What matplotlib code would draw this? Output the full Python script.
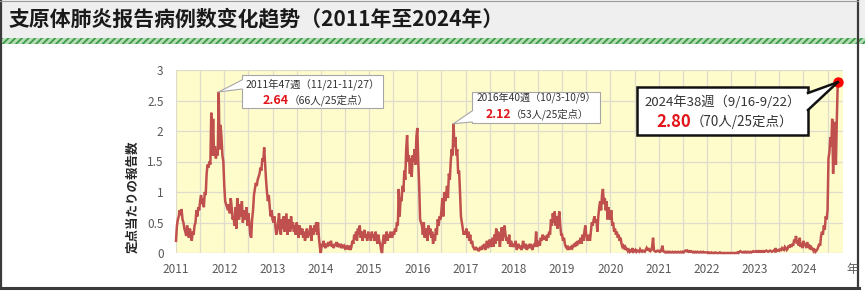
import matplotlib
matplotlib.use("Agg")
import matplotlib.pyplot as plt
from matplotlib.patches import Rectangle, Polygon
from matplotlib.lines import Line2D
import numpy as np

# ---------------- data (weekly reports per sentinel site) ----------------
title = "支原体肺炎报告病例数变化趋势（2011年至2024年）"
ylabel = "定点当たりの報告数"
year_ticks = list(range(2011, 2025))
y_ticks = [0, 0.5, 1, 1.5, 2, 2.5, 3]
y_tick_labels = ["0", "0.5", "1", "1.5", "2", "2.5", "3"]

v2011 = [0.2, 0.45, 0.55, 0.6, 0.7, 0.62, 0.72, 0.55, 0.5, 0.4,
         0.35, 0.28, 0.45, 0.3, 0.25, 0.4, 0.3, 0.2, 0.35, 0.3,
         0.45, 0.5, 0.7, 0.6, 0.75, 0.7, 0.85, 0.95, 0.8, 0.9,
         0.75, 1.0, 0.95, 1.3, 1.45, 1.4, 1.5, 1.45, 2.3, 1.6,
         2.2, 1.6, 1.75, 1.55, 1.7, 1.6, 2.64, 1.7, 2.1, 1.9,
         1.6, 1.5]
v2012 = [1.1, 0.85, 0.8, 0.75, 0.7, 0.8, 0.65, 0.9, 0.75, 0.55,
         0.6, 0.45, 0.75, 0.4, 0.9, 0.6, 0.55, 0.8, 0.6, 0.85,
         0.5, 0.65, 0.7, 0.55, 0.75, 0.45, 0.65, 0.5, 0.3, 0.25,
         0.55, 0.7, 0.95, 1.05, 1.15, 1.1, 1.2, 1.25, 1.3, 1.4,
         1.35, 1.55, 1.5, 1.73, 1.45, 1.2, 1.0, 0.85, 0.95, 0.75,
         0.6, 0.7]
v2013 = [0.55, 0.5, 0.6, 0.45, 0.3, 0.35, 0.5, 0.65, 0.4, 0.3,
         0.55, 0.4, 0.6, 0.35, 0.5, 0.65, 0.3, 0.45, 0.55, 0.35,
         0.6, 0.4, 0.5, 0.35, 0.45, 0.3, 0.5, 0.4, 0.25, 0.45,
         0.35, 0.3, 0.4, 0.25, 0.35, 0.2, 0.3, 0.4, 0.25, 0.3,
         0.35, 0.45, 0.2, 0.4, 0.3, 0.45, 0.35, 0.5, 0.3, 0.5,
         0.25, 0.1]
v2014 = [0.0, 0.15, 0.1, 0.2, 0.12, 0.08, 0.15, 0.1, 0.18, 0.12,
         0.15, 0.2, 0.1, 0.14, 0.08, 0.15, 0.12, 0.18, 0.1, 0.13,
         0.1, 0.15, 0.08, 0.12, 0.1, 0.12, 0.08, 0.1, 0.06, 0.1,
         0.08, 0.12, 0.05, 0.1, 0.2, 0.15, 0.3, 0.22, 0.35, 0.2,
         0.4, 0.3, 0.45, 0.25, 0.35, 0.2, 0.3, 0.38, 0.25, 0.3,
         0.2, 0.35]
v2015 = [0.25, 0.3, 0.2, 0.35, 0.25, 0.3, 0.2, 0.35, 0.25, 0.15,
         0.3, 0.2, 0.15, 0.05, 0.0, 0.2, 0.3, 0.15, 0.25, 0.35,
         0.2, 0.3, 0.25, 0.35, 0.3, 0.25, 0.35, 0.3, 0.4, 0.35,
         0.5, 0.45, 1.05, 0.6, 0.9, 0.85, 1.1, 1.0, 1.35, 1.2,
         1.7, 1.93, 1.5, 1.6, 1.3, 1.55, 1.25, 1.6, 1.5, 1.7,
         1.45, 1.9]
v2016 = [2.05, 1.5, 1.1, 0.55, 0.5, 0.45, 0.3, 0.5, 0.25, 0.4,
         0.35, 0.2, 0.45, 0.3, 0.4, 0.25, 0.35, 0.15, 0.3, 0.2,
         0.4, 0.3, 0.55, 0.45, 0.6, 0.55, 0.7, 0.9, 0.6, 1.0,
         0.85, 0.95, 1.1, 0.9, 1.3, 1.2, 1.5, 1.7, 1.6, 2.12,
         1.75, 1.9, 1.6, 1.7, 1.3, 1.35, 1.0, 0.6, 0.5, 0.4,
         0.3, 0.35]
v2017 = [0.3, 0.4, 0.25, 0.35, 0.2, 0.3, 0.15, 0.2, 0.1, 0.08,
         0.05, 0.1, 0.05, 0.08, 0.03, 0.06, 0.1, 0.05, 0.12, 0.08,
         0.15, 0.05, 0.1, 0.2, 0.08, 0.12, 0.22, 0.1, 0.15, 0.25,
         0.1, 0.3, 0.15, 0.4, 0.2, 0.35, 0.25, 0.1, 0.3, 0.42,
         0.2, 0.35, 0.45, 0.3, 0.2, 0.25, 0.15, 0.3, 0.1, 0.2,
         0.15, 0.1]
v2018 = [0.15, 0.1, 0.2, 0.05, 0.1, 0.15, 0.08, 0.12, 0.05, 0.1,
         0.2, 0.08, 0.1, 0.15, 0.05, 0.1, 0.12, 0.08, 0.15, 0.1,
         0.05, 0.12, 0.15, 0.1, 0.35, 0.1, 0.15, 0.2, 0.12, 0.25,
         0.2, 0.3, 0.25, 0.22, 0.28, 0.2, 0.3, 0.25, 0.35, 0.3,
         0.55, 0.45, 0.65, 0.5, 0.68, 0.45, 0.6, 0.4, 0.55, 0.68,
         0.45, 0.3]
v2019 = [0.3, 0.2, 0.25, 0.15, 0.1, 0.08, 0.12, 0.05, 0.1, 0.06,
         0.1, 0.08, 0.12, 0.15, 0.1, 0.18, 0.12, 0.2, 0.15, 0.2,
         0.25, 0.15, 0.3, 0.2, 0.35, 0.45, 0.3, 0.2, 0.25, 0.3,
         0.2, 0.35, 0.5, 0.45, 0.55, 0.6, 0.5, 0.55, 0.35, 0.6,
         0.75, 0.85, 0.7, 0.95, 1.05, 0.8, 0.9, 0.7, 0.85, 0.55,
         0.75, 0.6]
v2020 = [0.55, 0.7, 0.45, 0.5, 0.35, 0.4, 0.3, 0.35, 0.25, 0.3,
         0.2, 0.25, 0.15, 0.1, 0.12, 0.08, 0.1, 0.05, 0.08, 0.03,
         0.05, 0.02, 0.04, 0.03, 0.08, 0.02, 0.03, 0.05, 0.02, 0.04,
         0.03, 0.02, 0.06, 0.03, 0.02, 0.04, 0.03, 0.02, 0.05, 0.08,
         0.04, 0.08, 0.04, 0.03, 0.05, 0.1, 0.25, 0.04, 0.03, 0.02,
         0.03, 0.04]
v2021 = [0.03, 0.02, 0.04, 0.02, 0.12, 0.03, 0.02, 0.01, 0.02, 0.01,
         0.02, 0.01, 0.02, 0.01, 0.01, 0.02, 0.01, 0.01, 0.02, 0.01,
         0.01, 0.02, 0.01, 0.01, 0.02, 0.01, 0.02, 0.01, 0.03, 0.04,
         0.03, 0.04, 0.02, 0.03, 0.02, 0.03, 0.02, 0.01, 0.02, 0.01,
         0.02, 0.01, 0.02, 0.01, 0.01, 0.02, 0.01, 0.01, 0.02, 0.01,
         0.01, 0.01]
v2022 = [0.01, 0.0, 0.01, 0.0, 0.0, 0.01, 0.0, 0.0, 0.0, 0.01,
         0.0, 0.0, 0.0, 0.0, 0.01, 0.0, 0.0, 0.0, 0.0, 0.0,
         0.0, 0.0, 0.0, 0.0, 0.0, 0.0, 0.0, 0.0, 0.0, 0.0,
         0.0, 0.0, 0.0, 0.01, 0.0, 0.02, 0.03, 0.02, 0.01, 0.01,
         0.02, 0.01, 0.02, 0.01, 0.02, 0.01, 0.01, 0.02, 0.01, 0.02,
         0.03, 0.02]
v2023 = [0.02, 0.03, 0.02, 0.03, 0.02, 0.03, 0.02, 0.03, 0.02, 0.03,
         0.02, 0.03, 0.04, 0.03, 0.02, 0.03, 0.04, 0.03, 0.02, 0.03,
         0.04, 0.03, 0.08, 0.03, 0.04, 0.05, 0.04, 0.06, 0.05, 0.08,
         0.06, 0.05, 0.1, 0.08, 0.05, 0.07, 0.12, 0.09, 0.14, 0.1,
         0.15, 0.12, 0.22, 0.18, 0.28, 0.15, 0.2, 0.12, 0.25, 0.1,
         0.15, 0.08]
v2024 = [0.2, 0.12, 0.15, 0.08, 0.18, 0.1, 0.14, 0.06, 0.12, 0.05,
         0.08, 0.03, 0.05, 0.02, 0.04, 0.06, 0.1, 0.15, 0.12, 0.28,
         0.35, 0.3, 0.45, 0.38, 0.6, 0.55, 0.7, 1.55, 1.65, 1.9,
         1.75, 2.2, 1.3, 2.15, 1.95, 1.45, 2.2, 2.80]

years = list(range(2011, 2025))
series = [v2011, v2012, v2013, v2014, v2015, v2016, v2017, v2018,
          v2019, v2020, v2021, v2022, v2023, v2024]

# annotations: (year, week, value, label line1, count text)
ann1 = (2011, 47, 2.64, "2011年47週（11/21-11/27）", "（66人/25定点）")
ann2 = (2016, 40, 2.12, "2016年40週（10/3-10/9）", "（53人/25定点）")
ann3 = (2024, 38, 2.80, "2024年38週（9/16-9/22）", "（70人/25定点）")

# ---------------- build x positions from year/week ----------------
xs, ys = [], []
for yr, vals in zip(years, series):
    for i, v in enumerate(vals):
        xs.append(yr + i / 52.0)
        ys.append(v)
xs = np.array(xs)
ys = np.array(ys)

W, H = 865, 296
plt.rcParams['font.family'] = ['Noto Sans CJK JP', 'DejaVu Sans']
fig = plt.figure(figsize=(W / 100, H / 100), dpi=100)
fig.patch.set_facecolor('white')


def fx(px):
    return px / W


def fy(py):
    return 1 - py / H


# title bar
fig.add_artist(Rectangle((0, fy(38)), 1, 38 / H, transform=fig.transFigure,
                         facecolor='#EFEFEF', edgecolor='none', zorder=0))
plt.rcParams['hatch.color'] = '#3E9B4A'
plt.rcParams['hatch.linewidth'] = 1.3
fig.add_artist(Rectangle((0, fy(43.5)), 1, 5.5 / H, transform=fig.transFigure,
                         facecolor='#B5DDB5', edgecolor='#3E9B4A', hatch='/////',
                         linewidth=0, zorder=1))
fig.text(fx(9), fy(19), title, fontsize=15, fontweight='bold',
         family=['Noto Sans CJK SC', 'DejaVu Sans'], color='#1A1A1A',
         ha='left', va='center')

# outer frame
frame_c = '#3A3A3A'
fig.add_artist(Line2D([fx(1.2), fx(1.2)], [fy(0), fy(288)], transform=fig.transFigure,
                      color=frame_c, lw=1.6, zorder=3))
fig.add_artist(Line2D([fx(857.5), fx(857.5)], [fy(0), fy(288)], transform=fig.transFigure,
                      color=frame_c, lw=1.6, zorder=3))
fig.add_artist(Line2D([fx(0), fx(858.5)], [fy(288), fy(288)], transform=fig.transFigure,
                      color=frame_c, lw=2.2, zorder=3))
fig.add_artist(Line2D([fx(0), fx(858)], [fy(0.5), fy(0.5)], transform=fig.transFigure,
                      color='#9A9A9A', lw=0.8, zorder=3))

# axes
ax = fig.add_axes([fx(176), fy(253), 667 / W, 183 / H])
ax.set_facecolor('#FEFCCB')
ax.set_xlim(2011, 2024.82)
ax.set_ylim(0, 3)
ax.set_xticks(year_ticks)
ax.set_xticklabels([str(y) for y in year_ticks])
ax.set_xticks([y + 0.5 for y in year_ticks], minor=True)
ax.set_yticks(y_ticks)
ax.set_yticklabels(y_tick_labels)
ax.grid(True, which='both', color='#DEDCCB', lw=0.9)
ax.set_axisbelow(True)
for s in ax.spines.values():
    s.set_visible(False)
ax.tick_params(which='both', length=0, colors='#595959', labelsize=8.5)
ax.tick_params(axis='x', pad=7)
ax.tick_params(axis='y', pad=9)

ax.plot(xs, ys, color='#C0504D', lw=1.8, solid_joinstyle='miter', clip_on=False, zorder=3)
ax.plot(xs[-1], ys[-1], 'o', color='#FF0000', ms=6.5, clip_on=False, zorder=4)

fig.text(fx(133), fy(197), ylabel, rotation=90, fontsize=9, fontweight='bold',
         color='#262626', ha='center', va='center')
fig.text(fx(846), fy(270), '年', fontsize=8.5, color='#595959', ha='left', va='center')

fig.canvas.draw()


def data_to_fig(x, y):
    d = ax.transData.transform((x, y))
    return fig.transFigure.inverted().transform(d)


def callout(ann, box, base, inward, split_x, y1, y2, fs1, fs2, fsn, ec, lw):
    yr, wk, val, line1, cnt = ann
    x0, yt, x1, yb = box
    fig.add_artist(Rectangle((fx(x0), fy(yb)), (x1 - x0) / W, (yb - yt) / H,
                             transform=fig.transFigure, facecolor='white',
                             edgecolor=ec, lw=lw, zorder=10))
    tip = data_to_fig(yr + (wk - 1) / 52.0, val)
    (bx1, by1), (bx2, by2) = base
    dx, dy = inward
    pts = [(fx(bx1 + dx), fy(by1 + dy)), (fx(bx1), fy(by1)), tuple(tip),
           (fx(bx2), fy(by2)), (fx(bx2 + dx), fy(by2 + dy))]
    fig.add_artist(Polygon(pts, closed=True, transform=fig.transFigure,
                           facecolor='white', edgecolor='none', zorder=11))
    for bx, by in base:
        fig.add_artist(Line2D([fx(bx), tip[0]], [fy(by), tip[1]],
                              transform=fig.transFigure, color=ec, lw=lw, zorder=12))
    fig.text(fx((x0 + x1) / 2), fy(y1), line1, fontsize=fs1, color='#333333',
             ha='center', va='center', zorder=13)
    fig.text(fx(split_x), fy(y2), f"{val:.2f}", fontsize=fsn, color='#E0161B',
             fontweight='bold', ha='right', va='center', zorder=13)
    fig.text(fx(split_x), fy(y2), cnt, fontsize=fs2, color='#333333',
             ha='left', va='center', zorder=13)


callout(ann1, (242, 75, 383, 108), [(242, 80), (242, 89)], (4, 0), 289, 84, 100,
        7.5, 7.6, 9, '#A6A6A6', 0.8)
callout(ann2, (472, 92, 600, 123), [(472, 111), (472, 122)], (4, 0), 511, 98.5, 114,
        7.3, 7.4, 8.8, '#A6A6A6', 0.8)
callout(ann3, (637, 87, 808, 135), [(808, 93), (808, 110)], (-4, 0), 691, 102, 122,
        9.5, 9.7, 12, '#111111', 1.8)

fig.savefig('out.png', dpi=100)
